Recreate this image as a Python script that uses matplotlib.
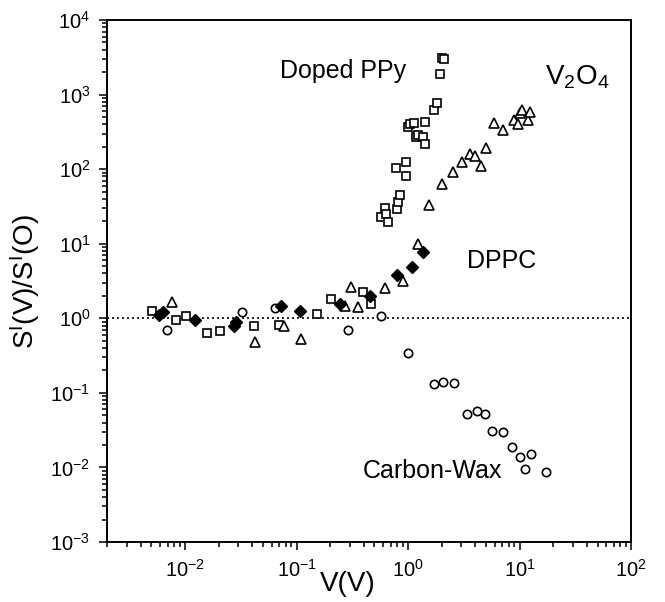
import numpy as np
import matplotlib
matplotlib.use('Agg')
import matplotlib.pyplot as plt
from matplotlib.ticker import LogLocator, LogFormatterSciNotation, NullFormatter

plt.rcParams['font.family'] = ['Liberation Sans', 'DejaVu Sans']
plt.rcParams['mathtext.fontset'] = 'custom'
plt.rcParams['mathtext.rm'] = 'Liberation Sans'
plt.rcParams['mathtext.it'] = 'Liberation Sans:italic'
plt.rcParams['mathtext.bf'] = 'Liberation Sans:bold'
plt.rcParams['axes.unicode_minus'] = False

# Doped PPy (open squares)
ppy_v = [0.0051, 0.0083, 0.0103, 0.0156, 0.0206, 0.0417, 0.070, 0.152, 0.203, 0.397,
         0.461, 0.578, 0.62, 0.63, 0.664, 0.797, 0.81, 0.847, 0.784, 0.957,
         0.965, 1.0, 1.05, 1.14, 1.18, 1.23, 1.36, 1.42, 1.42, 1.71,
         1.83, 1.95, 2.03, 2.12]
ppy_s = [1.24, 0.95, 1.07, 0.64, 0.67, 0.79, 0.82, 1.14, 1.83, 2.24,
         1.57, 22.5, 30, 25, 19.3, 29.5, 36, 45.7, 104, 125,
         81.5, 370, 400, 417, 270, 286, 270, 218, 435, 631,
         760, 1900, 3100, 3040]

# V2O4 (open triangles)
v2o4_v = [0.0077, 0.0425, 0.078, 0.110, 0.273, 0.306, 0.355, 0.62, 0.908, 1.23,
          1.53, 2.02, 2.51, 3.07, 3.6, 3.99, 4.55, 5.05, 5.9, 7.1,
          8.9, 9.7, 10.0, 10.5, 11.9, 12.3]
v2o4_s = [1.66, 0.48, 0.80, 0.53, 1.44, 2.61, 1.43, 2.58, 3.15, 10.0,
          33.2, 63, 93, 123, 158, 152, 110, 194, 418, 333,
          460, 407, 560, 620, 460, 580]

# Carbon-Wax (open circles)
wax_v = [0.0069, 0.0327, 0.0644, 0.288, 0.573, 0.99, 1.70, 2.04, 2.6, 3.38,
         4.13, 4.85, 5.65, 7.1, 8.5, 10.0, 12.6, 11.2, 17.1]
wax_s = [0.70, 1.21, 1.39, 0.70, 1.06, 0.345, 0.131, 0.139, 0.134, 0.0519,
         0.057, 0.0525, 0.0308, 0.0295, 0.019, 0.0138, 0.015, 0.0094, 0.0086]

# DPPC (filled diamonds)
dppc_v = [0.0058, 0.0064, 0.0122, 0.0275, 0.0287, 0.0728, 0.1077, 0.246, 0.453, 0.797,
          1.08, 1.35]
dppc_s = [1.10, 1.20, 0.95, 0.79, 0.90, 1.48, 1.27, 1.57, 1.99, 3.76,
          4.82, 7.7]

x_ticks = [1e-2, 1e-1, 1e0, 1e1, 1e2]
y_ticks = [1e-3, 1e-2, 1e-1, 1e0, 1e1, 1e2, 1e3, 1e4]

fig = plt.figure(figsize=(6.65, 6.02), dpi=100)
ax = fig.add_axes([0.161, 0.0997, 0.788, 0.867])

ax.axhline(1.0, color='k', linestyle=(0, (1.2, 1.8)), linewidth=1.2, zorder=1)

mk = dict(linestyle='none', markerfacecolor='white', markeredgecolor='k',
          markeredgewidth=1.2, zorder=3)
ax.plot(ppy_v, ppy_s, marker='s', markersize=6, **mk)
ax.plot(v2o4_v, v2o4_s, marker='^', markersize=7, **mk)
ax.plot(wax_v, wax_s, marker='o', markersize=6, **mk)
ax.plot(dppc_v, dppc_s, marker='D', markersize=6.5, linestyle='none',
        color='k', zorder=4)

ax.set_xscale('log')
ax.set_yscale('log')
ax.set_xlim(0.002, 100)
ax.set_ylim(1e-3, 1e4)

ax.set_xticks(x_ticks)
ax.set_yticks(y_ticks)
for axis in (ax.xaxis, ax.yaxis):
    axis.set_minor_locator(LogLocator(base=10, subs=np.arange(2, 10), numticks=100))
    axis.set_major_formatter(LogFormatterSciNotation())
    axis.set_minor_formatter(NullFormatter())

ax.tick_params(which='both', direction='out', top=False, right=False,
               labelsize=14.5, width=1.1)
ax.tick_params(which='major', length=6, pad=6)
ax.tick_params(which='minor', length=3.5)
for s in ax.spines.values():
    s.set_linewidth(1.4)

ax.set_xlabel('V(V)', fontsize=20, labelpad=0)
ax.xaxis.set_label_coords(0.46, -0.056)
ax.set_ylabel(r'S$^{\rm I}$(V)/S$^{\rm I}$(O)', fontsize=20, labelpad=6)

txt = dict(fontsize=18, color='k')
ax.text(0.0711, 1667, 'Doped PPy', ha='left', va='baseline', **txt)
ax.text(3.38, 4.74, 'DPPC', ha='left', va='baseline', **txt)
ax.text(6.97, 0.00726, 'Carbon-Wax', ha='right', va='baseline', **txt)
ax.text(17.0, 1346, r'V$_2$O$_4$', ha='left', va='baseline', fontsize=20)

fig.savefig('out.png', dpi=100)
